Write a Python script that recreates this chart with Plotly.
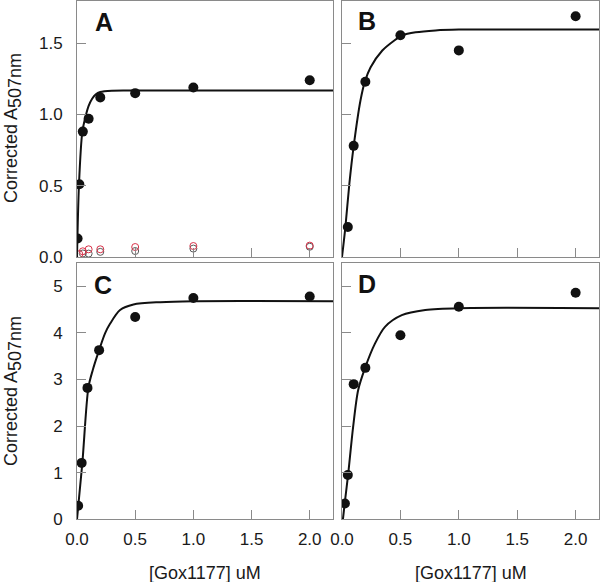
import plotly.graph_objects as go

W, H = 600, 582

# ---- data ----
a_x = [0.005, 0.02, 0.05, 0.1, 0.2, 0.5, 1.0, 2.0]
a_y = [0.13, 0.51, 0.88, 0.97, 1.12, 1.15, 1.19, 1.24]
a_ctrl_red_x = [0.02, 0.05, 0.1, 0.2, 0.5, 1.0, 2.0]
a_ctrl_red_y = [0.02, 0.04, 0.054, 0.054, 0.07, 0.077, 0.08]
a_ctrl_gray_x = [0.05, 0.1, 0.2, 0.5, 1.0, 2.0]
a_ctrl_gray_y = [0.025, 0.024, 0.036, 0.042, 0.059, 0.072]
a_fit_x = [0, 0.017, 0.046, 0.075, 0.1, 0.13, 0.16, 0.2, 0.3, 0.5, 1.0, 2.2]
a_fit_y = [0, 0.51, 0.88, 0.99, 1.06, 1.11, 1.14, 1.158, 1.167, 1.168, 1.168, 1.168]

b_x = [0.05, 0.1, 0.2, 0.5, 1.0, 2.0]
b_y = [0.21, 0.78, 1.23, 1.556, 1.45, 1.69]
b_fit_x = [0, 0.029, 0.063, 0.1, 0.158, 0.195, 0.244, 0.345, 0.445, 0.517, 0.63, 0.8, 1.0, 1.5, 2.2]
b_fit_y = [0, 0.21, 0.514, 0.778, 1.098, 1.229, 1.33, 1.449, 1.518, 1.556, 1.577, 1.59, 1.596, 1.597, 1.597]

c_x = [0.01, 0.04, 0.09, 0.19, 0.5, 1.0, 2.0]
c_y = [0.29, 1.21, 2.82, 3.63, 4.34, 4.75, 4.78]
c_fit_x = [0, 0.046, 0.098, 0.135, 0.19, 0.241, 0.285, 0.37, 0.485, 0.716, 1.0, 2.2]
c_fit_y = [0, 1.21, 2.83, 3.2, 3.63, 3.99, 4.2, 4.49, 4.61, 4.66, 4.68, 4.68]

d_x = [0.025, 0.05, 0.1, 0.2, 0.5, 1.0, 2.0]
d_y = [0.34, 0.95, 2.90, 3.25, 3.95, 4.56, 4.86]
d_fit_x = [0.008, 0.023, 0.052, 0.095, 0.138, 0.196, 0.282, 0.368, 0.512, 0.713, 1.0, 2.2]
d_fit_y = [0, 0.34, 0.95, 1.98, 2.77, 3.24, 3.77, 4.13, 4.38, 4.49, 4.53, 4.53]

x_tickvals = [0.0, 0.5, 1.0, 1.5, 2.0]
ya_tickvals = [0.0, 0.5, 1.0, 1.5]
yc_tickvals = [0, 1, 2, 3, 4, 5]
panel_labels = ["A", "B", "C", "D"]
x_title = "[Gox1177] uM"
y_title = 'Corrected A<sub><span style="font-size:18px">507nm</span></sub>'

# ---- layout geometry (pixels) ----
def px_x(a, b):
    return [a / W, b / W]

def px_y(top, bottom):
    return [1 - bottom / H, 1 - top / H]

dom_left = px_x(77, 333)
dom_right = px_x(342, 599)
dom_top = px_y(0.5, 257)
dom_bot = px_y(263, 519.3)

FONT = "Liberation Sans, Arial, sans-serif"
FRAME = "#8a8a8a"
BLACK = "#111111"

fig = go.Figure()

panels = [
    (a_x, a_y, a_fit_x, a_fit_y, "x", "y"),
    (b_x, b_y, b_fit_x, b_fit_y, "x2", "y2"),
    (c_x, c_y, c_fit_x, c_fit_y, "x3", "y3"),
    (d_x, d_y, d_fit_x, d_fit_y, "x4", "y4"),
]

# control open circles (panel A)
fig.add_trace(go.Scatter(x=a_ctrl_gray_x, y=a_ctrl_gray_y, mode="markers", xaxis="x", yaxis="y",
                         marker=dict(symbol="circle-open", size=7, color="#5a5a5a", line=dict(width=1)),
                         showlegend=False, hoverinfo="skip"))
fig.add_trace(go.Scatter(x=a_ctrl_red_x, y=a_ctrl_red_y, mode="markers", xaxis="x", yaxis="y",
                         marker=dict(symbol="circle-open", size=7, color="#d8334a", line=dict(width=1)),
                         showlegend=False, hoverinfo="skip"))

for px_, py_, fx, fy, xa, ya in panels:
    fig.add_trace(go.Scatter(x=fx, y=fy, mode="lines", xaxis=xa, yaxis=ya,
                             line=dict(color=BLACK, width=2, shape="spline", smoothing=0.8),
                             showlegend=False, hoverinfo="skip"))
    fig.add_trace(go.Scatter(x=px_, y=py_, mode="markers", xaxis=xa, yaxis=ya,
                             marker=dict(symbol="circle", size=10, color=BLACK),
                             showlegend=False))

axis_common = dict(showgrid=False, zeroline=False, showline=True, mirror=True,
                   linecolor=FRAME, linewidth=1, ticks="inside", ticklen=9,
                   tickcolor=FRAME, tickwidth=1, automargin=False,
                   tickfont=dict(family=FONT, size=17, color="#1a1a1a"))

def xaxis(domain, anchor, labels):
    return dict(axis_common, domain=domain, anchor=anchor, range=[0, 2.2],
                tickvals=x_tickvals, tickformat=".1f", showticklabels=labels,
                ticklabelstandoff=4)

def yaxis(domain, anchor, rng, vals, fmt, labels):
    return dict(axis_common, domain=domain, anchor=anchor, range=rng,
                tickvals=vals, tickformat=fmt, showticklabels=labels,
                ticklabelstandoff=10)

fig.update_layout(
    width=W, height=H, autosize=False,
    margin=dict(l=0, r=0, t=0, b=0, pad=0, autoexpand=False),
    paper_bgcolor="white", plot_bgcolor="white",
    font=dict(family=FONT, color="#1a1a1a"),
    xaxis=xaxis(dom_left, "y", False),
    yaxis=yaxis(dom_top, "x", [0, 1.8], ya_tickvals, ".1f", True),
    xaxis2=xaxis(dom_right, "y2", False),
    yaxis2=yaxis(dom_top, "x2", [0, 1.8], ya_tickvals, ".1f", False),
    xaxis3=xaxis(dom_left, "y3", True),
    yaxis3=yaxis(dom_bot, "x3", [0, 5.5], yc_tickvals, "d", True),
    xaxis4=xaxis(dom_right, "y4", True),
    yaxis4=yaxis(dom_bot, "x4", [0, 5.5], yc_tickvals, "d", False),
)

annotations = []
letter_pos = [(104, 22), (367, 21), (103, 285), (367, 284)]
for lab, (lx, ly) in zip(panel_labels, letter_pos):
    annotations.append(dict(text="<b>%s</b>" % lab, x=lx / W, y=1 - ly / H, xref="paper", yref="paper",
                            xanchor="center", yanchor="middle", showarrow=False,
                            font=dict(family=FONT, size=25, color=BLACK)))
for cy in (128, 391):
    annotations.append(dict(text=y_title, x=13 / W, y=1 - cy / H, xref="paper", yref="paper",
                            xanchor="center", yanchor="middle", showarrow=False, textangle=-90,
                            font=dict(family=FONT, size=18, color="#1a1a1a")))
for cx in (205, 470.5):
    annotations.append(dict(text=x_title, x=cx / W, y=1 - 573 / H, xref="paper", yref="paper",
                            xanchor="center", yanchor="middle", showarrow=False,
                            font=dict(family=FONT, size=18, color="#1a1a1a")))
fig.update_layout(annotations=annotations)

fig.write_html("out.html", config={"displayModeBar": False},
               post_script="document.body.style.margin='0';document.body.style.overflow='hidden';")
